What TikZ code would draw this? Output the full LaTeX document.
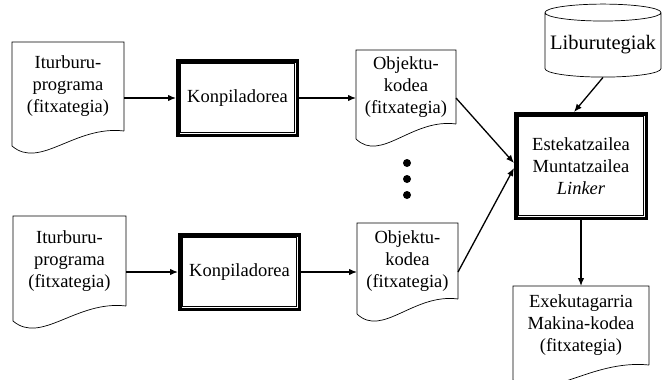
\documentclass[tikz,border=0pt]{standalone}
\usepackage{fontspec}
\setmainfont{Liberation Serif}
\usetikzlibrary{arrows.meta,calc,shapes.geometric}

\begin{document}
\begin{tikzpicture}[x=1pt,y=-1pt,
        every node/.style={font=\fontsize{18.5}{22}\selectfont, align=center, inner sep=0pt},
        doc/.style={minimum width=#1, outer sep=0pt},
        prog/.style={draw, line width=0.7pt, outer sep=4.75pt, minimum width=113.5pt, minimum height=68.5pt},
        arr/.style={-{Latex[length=8pt,width=6.5pt]}, line width=1.3pt},
        docline/.style={line width=0.7pt}]
        \useasboundingbox (0,0) rectangle (667,380);

        \node[doc=112pt, minimum height=89pt] (src1) at (68,86.5) {Iturburu-\\programa\\(fitxategia)};
        \node[prog] (kon1) at (237.5,98) {Konpiladorea};
        \node[doc=100pt, minimum height=74pt] (obj1) at (406,87) {Objektu-\\kodea\\(fitxategia)};

        \node[doc=113pt, minimum height=90pt] (src2) at (69.5,261) {Iturburu-\\programa\\(fitxategia)};
        \node[prog] (kon2) at (239.5,272) {Konpiladorea};
        \node[doc=101pt, minimum height=76pt] (obj2) at (407.5,261) {Objektu-\\kodea\\(fitxategia)};

        \foreach \i/\y in {1/163,2/179,3/195}
            \node[circle, fill, minimum size=8pt] (dot\i) at (407,\y) {};

        \node[draw, docline, cylinder, shape border rotate=90, aspect=0.16, minimum width=116pt, minimum height=73pt,
            font=\fontsize{20.5}{24}\selectfont] (lib) at (603,45) {Liburutegiak};
        \node[prog, minimum width=124.5pt, minimum height=98.5pt] (link) at (581,166) {Estekatzailea\\Muntatzailea\\\textit{Linker}};
        \node[doc=136pt, minimum height=79pt] (exe) at (581,325.5) {Exekutagarria\\Makina-kodea\\(fitxategia)};

        % outer frames
        \foreach \n in {kon1,kon2,link}
            \draw[line width=3.5pt] ([shift={(1.75pt,-1.75pt)}]\n.north west) rectangle ([shift={(-1.75pt,1.75pt)}]\n.south east);
        % document shapes
        \foreach \n in {src1,src2,obj1,obj2,exe}
            \draw[docline] (\n.south east) -- (\n.north east) -- (\n.north west) -- ([yshift=-15pt]\n.south west)
                .. controls ($(\n.south west)!0.25!(\n.south east)+(0,-39pt)$) and ($(\n.south west)!0.56!(\n.south east)+(0,6pt)$) .. (\n.south east);

        \draw[arr] (src1.east |- kon1) -- (kon1);
        \draw[arr] (kon1) -- (obj1.west |- kon1);
        \draw[arr] (src2.east |- kon2) -- (kon2);
        \draw[arr] (kon2) -- (obj2.west |- kon2);
        \draw[arr] (obj1.east |- kon1) -- ([yshift=3pt]link.west);
        \draw[arr] (obj2.east |- kon2) -- ([yshift=-2pt]link.west);
        \draw[arr] (lib.south) -- ([xshift=-7pt]link.north);
        \draw[arr] (link) -- (exe);

    \end{tikzpicture}
\end{document}
